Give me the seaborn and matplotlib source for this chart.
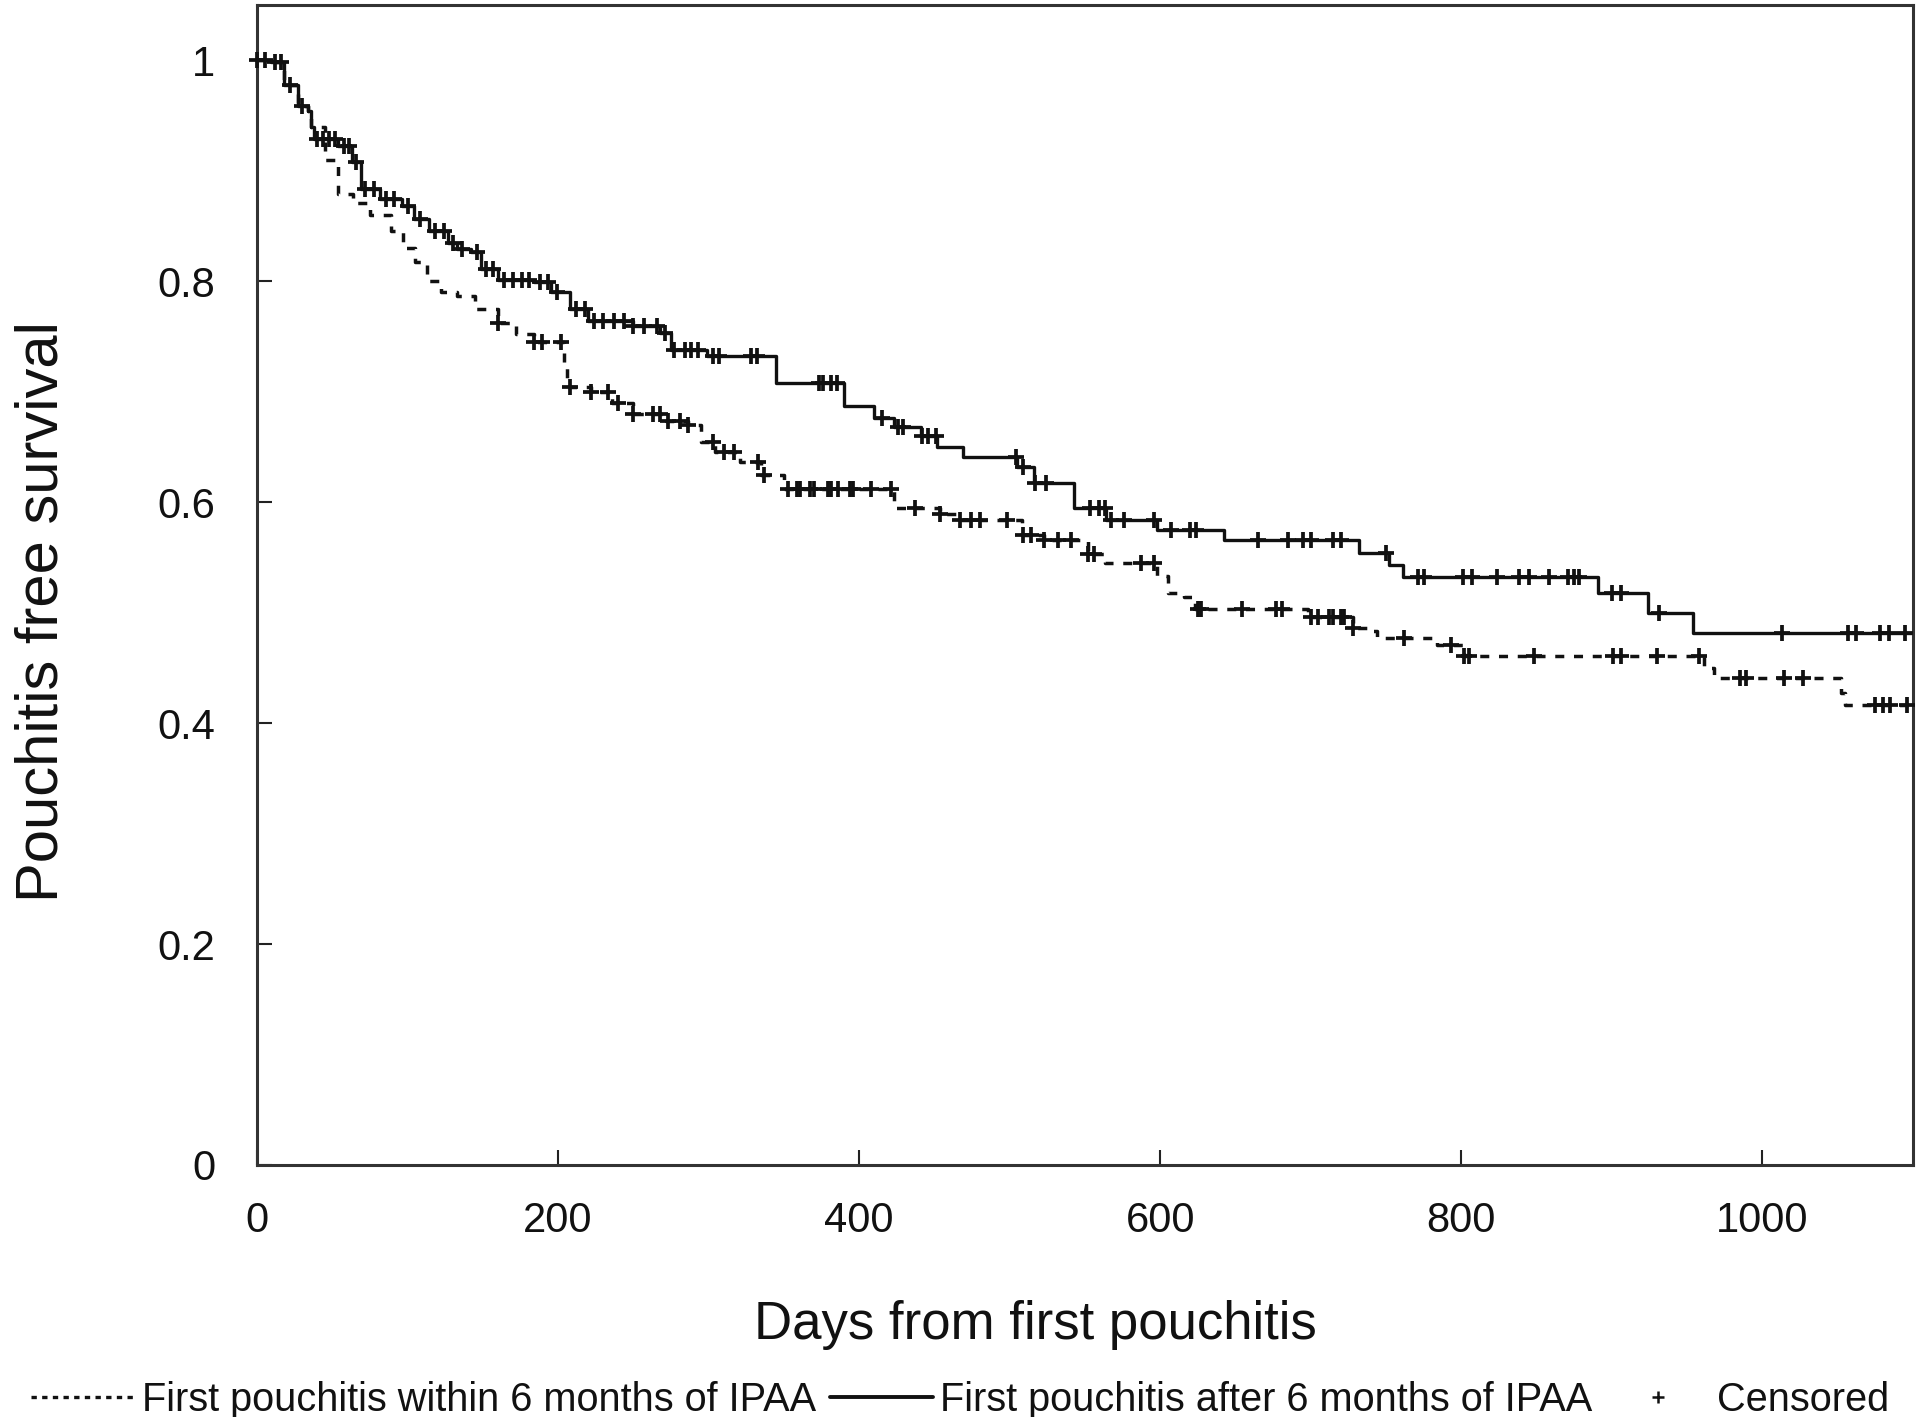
import numpy as np
import pandas as pd
import matplotlib
matplotlib.use("Agg")
import matplotlib.pyplot as plt
from matplotlib.lines import Line2D
import seaborn as sns

# ---------------- data ----------------
after_times = [0, 9, 18, 27, 34, 36, 38, 54, 63, 69, 82, 96, 104, 114, 127, 133, 142, 149,
               160, 184, 195, 208, 220, 250, 268, 275, 299, 345, 390, 410, 423, 441, 452,
               469, 505, 516, 543, 564, 598, 642, 732, 752, 761, 891, 924, 954, 1100]
after_surv = [1.0, 0.998, 0.978, 0.959, 0.954, 0.94, 0.929, 0.922, 0.908, 0.883, 0.874,
              0.868, 0.856, 0.845, 0.835, 0.829, 0.826, 0.811, 0.801, 0.799, 0.79, 0.775,
              0.764, 0.759, 0.753, 0.738, 0.732, 0.708, 0.687, 0.676, 0.668, 0.66, 0.65,
              0.641, 0.632, 0.617, 0.595, 0.584, 0.575, 0.566, 0.554, 0.543, 0.532, 0.518,
              0.50, 0.482, 0.482]

within_times = [0, 9, 18, 27, 34, 36, 45, 54, 64, 75, 89, 97, 105, 113, 122, 133, 145, 160,
                172, 184, 204, 206, 222, 236, 250, 272, 286, 295, 304, 321, 335, 350, 423,
                454, 465, 508, 523, 552, 563, 598, 605, 616, 623, 698, 728, 740, 744, 784,
                802, 961, 968, 1052, 1055, 1100]
within_surv = [1.0, 0.998, 0.978, 0.959, 0.954, 0.94, 0.91, 0.879, 0.871, 0.86, 0.845, 0.83,
               0.817, 0.80, 0.79, 0.787, 0.775, 0.762, 0.752, 0.745, 0.726, 0.704, 0.70,
               0.69, 0.68, 0.673, 0.670, 0.654, 0.645, 0.636, 0.625, 0.612, 0.595, 0.589,
               0.584, 0.57, 0.566, 0.553, 0.545, 0.533, 0.518, 0.514, 0.503, 0.496, 0.486,
               0.483, 0.477, 0.471, 0.461, 0.45, 0.441, 0.427, 0.416, 0.416]

after_censored = [0, 5, 12, 16, 22, 30, 40, 44, 48, 52, 58, 61, 66, 72, 78, 86, 91, 100, 108,
                  118, 124, 130, 136, 146, 152, 157, 164, 170, 176, 181, 188, 193, 199, 212,
                  218, 224, 230, 237, 244, 250, 257, 266, 271, 277, 284, 288, 293, 303, 307,
                  328, 332, 373, 376, 381, 385, 415, 426, 429, 442, 446, 451, 504, 509, 517,
                  524, 553, 559, 563, 567, 576, 596, 607, 620, 624, 665, 685, 695, 700, 715,
                  720, 750, 771, 775, 801, 807, 824, 838, 845, 858, 871, 875, 878, 900, 906,
                  931, 1013, 1057, 1062, 1078, 1084, 1095]
within_censored = [160, 184, 189, 202, 208, 222, 233, 240, 250, 263, 268, 273, 281, 286, 303,
                   310, 317, 333, 337, 353, 359, 361, 367, 370, 379, 381, 386, 394, 396, 408,
                   421, 437, 454, 467, 474, 480, 498, 509, 514, 523, 532, 541, 552, 556, 587,
                   596, 625, 627, 654, 677, 681, 700, 705, 712, 715, 720, 722, 728, 762, 793,
                   802, 805, 848, 901, 906, 930, 958, 985, 989, 1014, 1027, 1075, 1080, 1085,
                   1096]

x_ticks = [0, 200, 400, 600, 800, 1000]
y_ticks = [0, 0.2, 0.4, 0.6, 0.8, 1.0]
y_ticklabels = ["0", "0.2", "0.4", "0.6", "0.8", "1"]
legend_labels = ["First pouchitis within 6 months of IPAA",
                 "First pouchitis after 6 months of IPAA",
                 "Censored"]
x_label = "Days from first pouchitis"
y_label = "Pouchitis free survival"


def surv_at(times, surv, t):
    idx = np.searchsorted(np.asarray(times), np.asarray(t), side="right") - 1
    return np.asarray(surv)[idx]


curves = pd.concat([
    pd.DataFrame({"t": within_times, "s": within_surv, "grp": "within"}),
    pd.DataFrame({"t": after_times, "s": after_surv, "grp": "after"}),
])
cens = pd.concat([
    pd.DataFrame({"t": within_censored,
                  "s": surv_at(within_times, within_surv, within_censored)}),
    pd.DataFrame({"t": after_censored,
                  "s": surv_at(after_times, after_surv, after_censored)}),
])

# ---------------- style ----------------
sns.set_style("ticks")
plt.rcParams["font.family"] = ["Liberation Sans", "DejaVu Sans"]

fig = plt.figure(figsize=(19.2, 14.17), dpi=100)
ax = fig.add_axes([257 / 1920, 1 - 1165 / 1417, (1913 - 257) / 1920, (1165 - 5) / 1417])

ink = "#111111"
dash = (0, (2.6, 2.8))
sub = curves[curves.grp == "within"]
sns.lineplot(data=sub, x="t", y="s", ax=ax, color=ink, lw=2.5, estimator=None,
             drawstyle="steps-post", linestyle=dash, legend=False)
sub = curves[curves.grp == "after"]
sns.lineplot(data=sub, x="t", y="s", ax=ax, color=ink, lw=2.4, estimator=None,
             drawstyle="steps-post", legend=False)
sns.scatterplot(data=cens, x="t", y="s", ax=ax, marker="+", s=120, color=ink,
                linewidth=2.7, clip_on=False, zorder=5, legend=False)

ax.set_xlim(0, 1100)
ax.set_ylim(0, 1.05)
ax.set_xticks(x_ticks)
ax.set_xticklabels([str(v) for v in x_ticks])
ax.set_yticks(y_ticks)
ax.set_yticklabels(y_ticklabels)
ax.tick_params(axis="both", direction="in", length=11, width=1.5, colors="#222222",
               labelsize=30, labelcolor="#111111")
ax.tick_params(axis="y", pad=30)
ax.tick_params(axis="x", pad=26)
for sp in ax.spines.values():
    sp.set_visible(True)
    sp.set_linewidth(2.2)
    sp.set_color("#333333")

ax.set_xlabel(x_label, fontsize=38, color="#111111")
ax.set_ylabel(y_label, fontsize=43, color="#111111")
ax.xaxis.set_label_coords(0.47, -0.138)
ax.xaxis.label.set_va("center")
ax.yaxis.set_label_coords(-0.130, 0.477)
ax.yaxis.label.set_va("center")

handles = [
    Line2D([], [], color=ink, lw=2.4, linestyle=(0, (1.6, 1.6))),
    Line2D([], [], color=ink, lw=2.8),
    Line2D([], [], color=ink, lw=0, marker="+", markersize=8, markeredgewidth=1.8),
]
fig.legend(handles, legend_labels, loc="center", bbox_to_anchor=(0.5, 0.012),
           ncol=3, frameon=False, fontsize=28.6, handlelength=2.6, handletextpad=0.18,
           columnspacing=0.35, borderpad=0, borderaxespad=0, labelcolor="#111111")

fig.savefig("out.png", dpi=100, facecolor="white")
